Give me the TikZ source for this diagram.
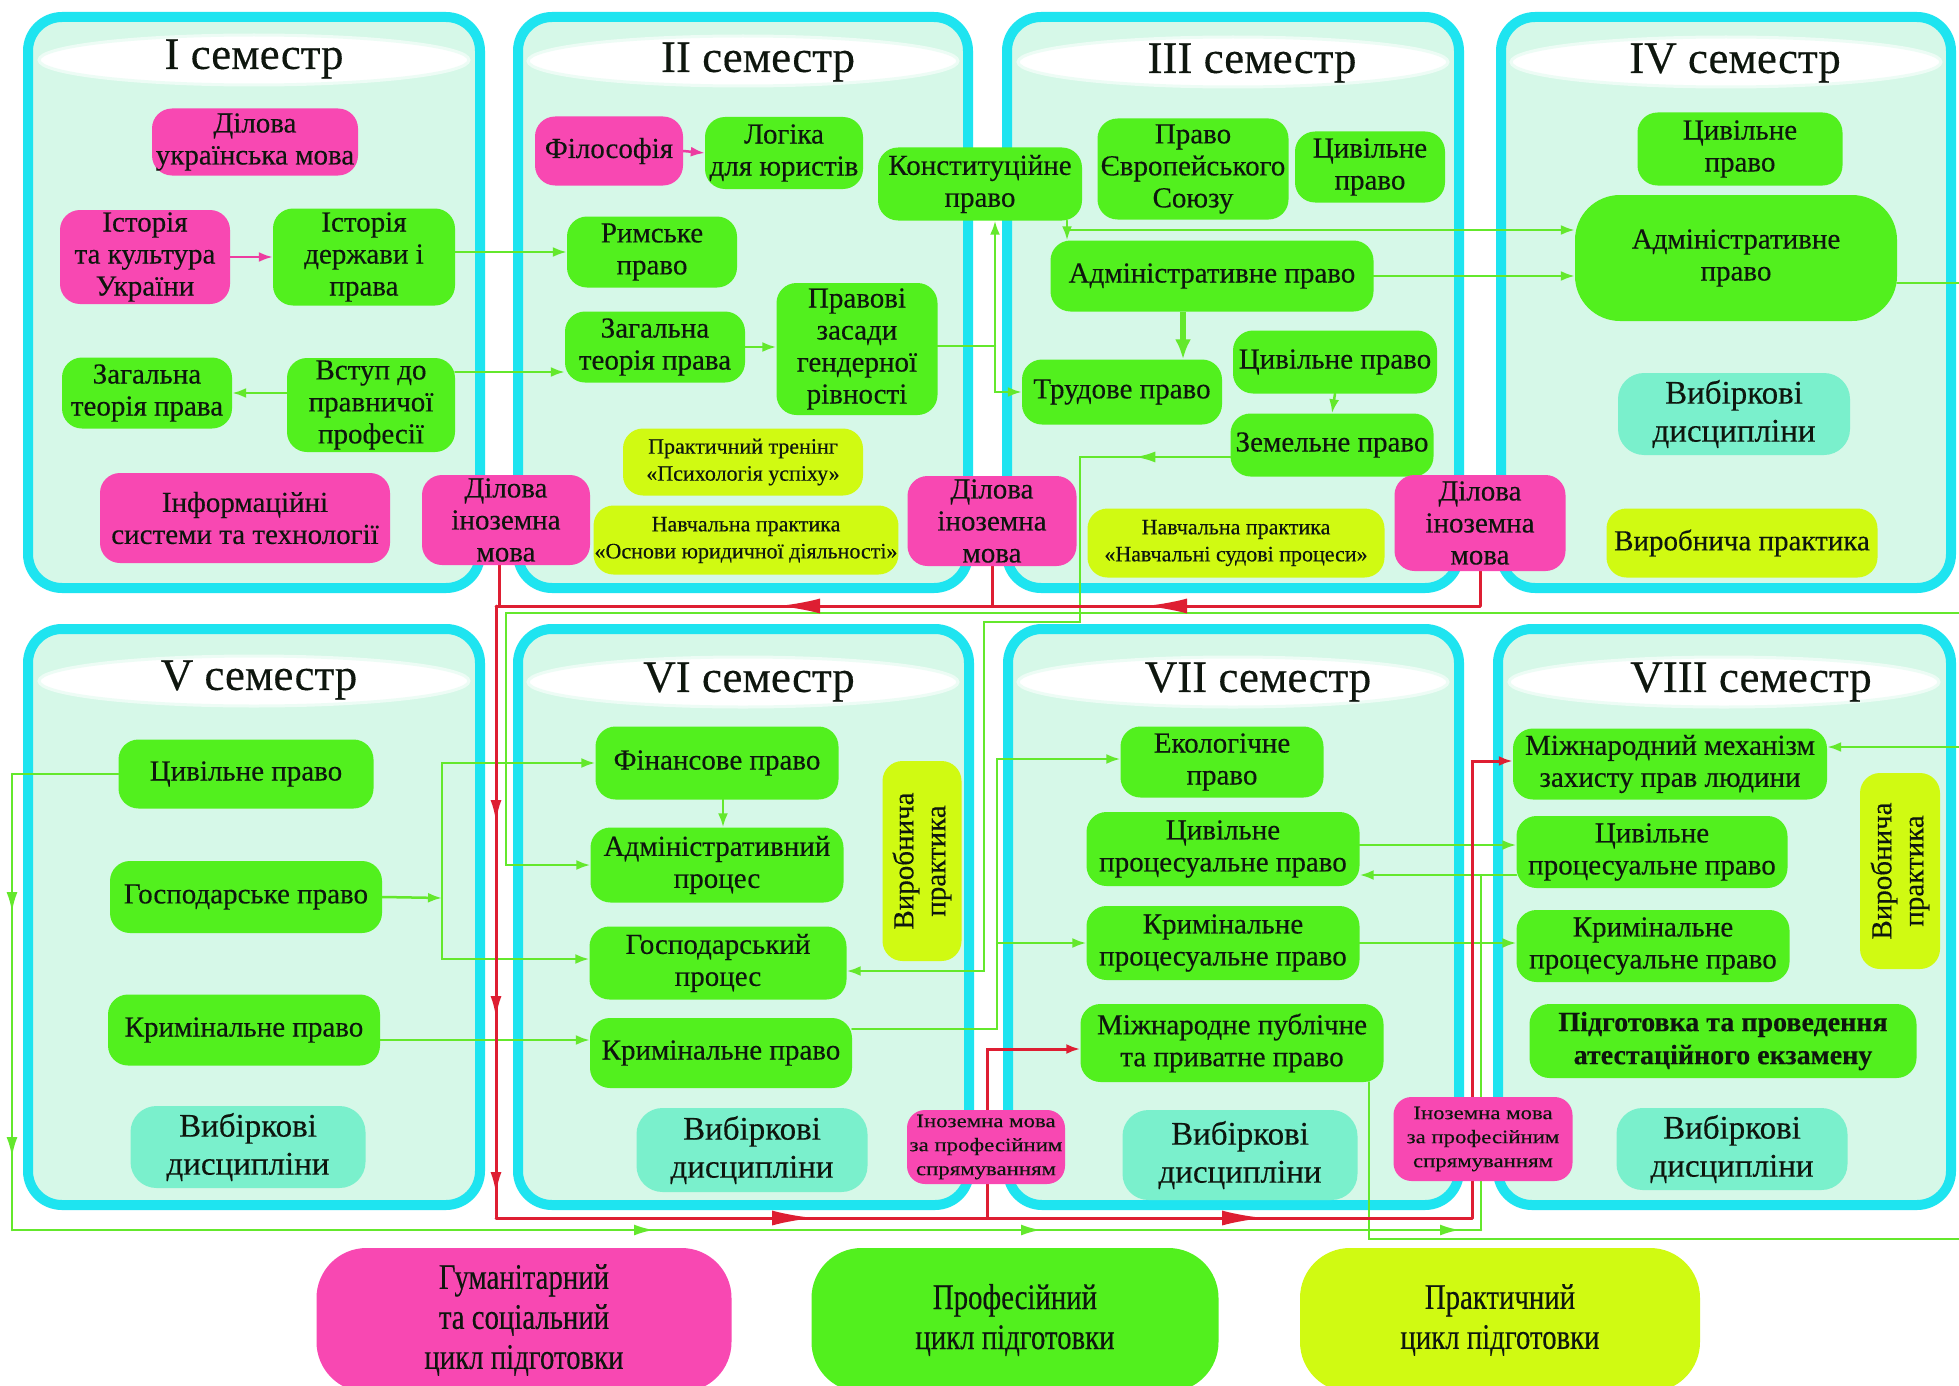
\documentclass[tikz,border=0pt]{standalone}
\usepackage{fontspec}
\setmainfont{Liberation Serif}[FakeBold=0.3]
\newfontfamily\narrowfont{Liberation Serif}[FakeStretch=0.8,FakeBold=0.3]
\newfontfamily\widefont{Liberation Serif}[FakeStretch=1.2,FakeBold=0.2]
\usetikzlibrary{arrows.meta,shapes.geometric,decorations.markings}
\definecolor{cyanB}{RGB}{30,228,240}
\definecolor{mint}{RGB}{214,248,232}
\definecolor{pinkN}{RGB}{248,72,178}
\definecolor{greenN}{RGB}{82,240,30}
\definecolor{yelN}{RGB}{208,250,18}
\definecolor{aquaN}{RGB}{122,240,204}
\definecolor{lineG}{RGB}{100,232,44}
\definecolor{lineR}{RGB}{222,30,50}
\definecolor{lineP}{RGB}{236,60,160}
\definecolor{txt}{RGB}{14,22,14}
\pgfdeclarelayer{panels}
\pgfdeclarelayer{links}
\pgfsetlayers{panels,links,main}
\newcommand\ftitle{\fontsize{45}{50}\selectfont}
\newcommand\fbody{\fontsize{29}{32}\selectfont}
\newcommand\fsmall{\fontsize{22}{27}\selectfont}
\newcommand\fvyb{\fontsize{33}{38}\selectfont}
\newcommand\ftiny{\widefont\fontsize{19}{24}\selectfont}
\newcommand\flegend{\narrowfont\fontsize{36}{40}\selectfont}
\newcommand\fboldx{\bfseries\fontsize{28}{33}\selectfont}
\newcommand\RT{\arrow{Latex[length=42pt,width=15pt]}}
\newcommand\RS{\arrow{Latex[length=22pt,width=11pt]}}
\newcommand\GT{\arrow{Latex[length=20pt,width=11pt]}}
\tikzset{
  panel/.style={draw=cyanB, line width=10pt, fill=mint, rounded corners=34pt},
  hdr/.style={ellipse, fill=white, draw=white!55!mint, line width=3pt, inner sep=0pt},
  ttl/.style={font=\ftitle, text=txt, inner sep=0pt},
  bx/.style={rectangle, rounded corners=20pt, align=center, inner sep=1pt, text=txt, font=\fbody},
  pk/.style={bx, fill=pinkN},
  gr/.style={bx, fill=greenN},
  ye/.style={bx, fill=yelN},
  aq/.style={bx, fill=aquaN, font=\fvyb, rounded corners=26pt},
  lg/.style={bx, font=\flegend, rounded corners=50pt},
  gl/.style={draw, color=lineG, line width=2.5pt, line cap=round},
  rl/.style={draw, color=lineR, line width=3pt, line cap=round},
  pl/.style={draw, color=lineP, line width=2.5pt, line cap=round}
}
\begin{document}
\begin{tikzpicture}[x=1pt,y=-1pt, >={Latex[length=14pt,width=10pt]}]
\useasboundingbox (0,0) rectangle (1959,1386);

% ---------- headers ----------
\node[hdr, minimum width=430pt, minimum height=50pt] (h1) at (254,60) {};
\node[hdr, minimum width=430pt, minimum height=50pt] (h2) at (743,61) {};
\node[hdr, minimum width=430pt, minimum height=50pt] (h3) at (1233,62) {};
\node[hdr, minimum width=430pt, minimum height=50pt] (h4) at (1726,62) {};
\node[hdr, minimum width=430pt, minimum height=50pt] (h5) at (254,681) {};
\node[hdr, minimum width=430pt, minimum height=50pt] (h6) at (743,682) {};
\node[hdr, minimum width=430pt, minimum height=50pt] (h7) at (1233,682) {};
\node[hdr, minimum width=430pt, minimum height=50pt] (h8) at (1724,682) {};
\node[ttl] (t1) at (254,59) {I семестр};
\node[ttl] (t2) at (758,62) {II семестр};
\node[ttl] (t3) at (1252,63) {III семестр};
\node[ttl] (t4) at (1735,63) {IV семестр};
\node[ttl] (t5) at (259,680) {V семестр};
\node[ttl] (t6) at (749,682) {VI семестр};
\node[ttl] (t7) at (1258,682) {VII семестр};
\node[ttl] (t8) at (1751,682) {VIII семестр};

% ---------- semester I ----------
\node[pk, minimum width=206pt, minimum height=67pt] (dum) at (255,142) {Ділова\\українська мова};
\node[pk, minimum width=170pt, minimum height=94pt] (iku) at (145,257) {Історія\\та культура\\України};
\node[gr, minimum width=182pt, minimum height=97pt] (idp) at (364,257) {Історія\\держави і\\права};
\node[gr, minimum width=170pt, minimum height=71pt] (ztp1) at (147,393) {Загальна\\теорія права};
\node[gr, minimum width=168pt, minimum height=94pt] (vstup) at (371,405) {Вступ до\\правничої\\професії};
\node[pk, minimum width=290pt, minimum height=90pt] (ist) at (245,518) {Інформаційні\\системи та технології};
\node[pk, minimum width=168pt, minimum height=90pt] (dim1) at (506,520) {Ділова\\іноземна\\мова};

% ---------- semester II ----------
\node[pk, minimum width=148pt, minimum height=69pt] (fil) at (609,151) {Філософія};
\node[gr, minimum width=158pt, minimum height=72pt] (logi) at (784,153) {Логіка\\для юристів};
\node[gr, minimum width=170pt, minimum height=71pt] (rym) at (652,252) {Римське\\право};
\node[gr, minimum width=180pt, minimum height=71pt] (ztp2) at (655,347) {Загальна\\теорія права};
\node[gr, minimum width=161pt, minimum height=132pt] (gend) at (857,349) {Правові\\засади\\гендерної\\рівності};
\node[ye, minimum width=240pt, minimum height=67pt, font=\fsmall] (ptr) at (743,462) {Практичний тренінг\\«Психологія успіху»};
\node[ye, minimum width=303pt, minimum height=69pt, font=\fsmall] (npo) at (746,540) {Навчальна практика\\«Основи юридичної діяльності»};
\node[pk, minimum width=169pt, minimum height=90pt] (dim2) at (992,521) {Ділова\\іноземна\\мова};

% ---------- semester III ----------
\node[gr, minimum width=204pt, minimum height=73pt] (konst) at (980,184) {Конституційне\\право};
\node[gr, minimum width=191pt, minimum height=101pt] (eu) at (1193,169) {Право\\Європейського\\Союзу};
\node[gr, minimum width=150pt, minimum height=71pt] (cp3a) at (1370,167) {Цивільне\\право};
\node[gr, minimum width=323pt, minimum height=71pt] (adm3) at (1212,276) {Адміністративне право};
\node[gr, minimum width=200pt, minimum height=65pt] (trud) at (1122,392) {Трудове право};
\node[gr, minimum width=204pt, minimum height=63pt] (cp3b) at (1335,362) {Цивільне право};
\node[gr, minimum width=203pt, minimum height=63pt] (zem) at (1332,445) {Земельне право};
\node[ye, minimum width=297pt, minimum height=69pt, font=\fsmall] (nsp) at (1236,543) {Навчальна практика\\«Навчальні судові процеси»};
\node[pk, minimum width=171pt, minimum height=96pt] (dim3) at (1480,523) {Ділова\\іноземна\\мова};

% ---------- semester IV ----------
\node[gr, minimum width=205pt, minimum height=73pt] (cp4) at (1740,149) {Цивільне\\право};
\node[gr, minimum width=322pt, minimum height=126pt, rounded corners=45pt] (adm4) at (1736,258) {Адміністративне\\право};
\node[aq, minimum width=232pt, minimum height=82pt] (vyb4) at (1734,414) {Вибіркові\\дисципліни};
\node[ye, minimum width=271pt, minimum height=69pt] (vp4) at (1742,543) {Виробнича практика};

% ---------- semester V ----------
\node[gr, minimum width=255pt, minimum height=69pt] (cp5) at (246,774) {Цивільне право};
\node[gr, minimum width=272pt, minimum height=72pt] (gp5) at (246,897) {Господарське право};
\node[gr, minimum width=272pt, minimum height=71pt] (kp5) at (244,1030) {Кримінальне право};
\node[aq, minimum width=235pt, minimum height=82pt] (vyb5) at (248,1147) {Вибіркові\\дисципліни};

% ---------- semester VI ----------
\node[gr, minimum width=243pt, minimum height=73pt] (fin6) at (717,763) {Фінансове право};
\node[gr, minimum width=253pt, minimum height=75pt] (ap6) at (717,865) {Адміністративний\\процес};
\node[gr, minimum width=257pt, minimum height=73pt] (gpr6) at (718,963) {Господарський\\процес};
\node[gr, minimum width=262pt, minimum height=70pt] (kp6) at (721,1053) {Кримінальне право};
\node[aq, minimum width=231pt, minimum height=84pt] (vyb6) at (752,1150) {Вибіркові\\дисципліни};
\node[ye, minimum width=200pt, minimum height=79pt, rotate=90] (vp6) at (922,861) {Виробнича\\практика};
\node[pk, minimum width=158pt, minimum height=74pt, font=\ftiny, rounded corners=18pt] (imp1) at (986,1147) {Іноземна мова\\за професійним\\спрямуванням};

% ---------- semester VII ----------
\node[gr, minimum width=203pt, minimum height=71pt] (ekol) at (1222,762) {Екологічне\\право};
\node[gr, minimum width=273pt, minimum height=74pt] (cpp7) at (1223,849) {Цивільне\\процесуальне право};
\node[gr, minimum width=273pt, minimum height=74pt] (kpp7) at (1223,943) {Кримінальне\\процесуальне право};
\node[gr, minimum width=303pt, minimum height=78pt] (mpp7) at (1232,1043) {Міжнародне публічне\\та приватне право};
\node[aq, minimum width=235pt, minimum height=90pt] (vyb7) at (1240,1155) {Вибіркові\\дисципліни};
\node[pk, minimum width=179pt, minimum height=84pt, font=\ftiny, rounded corners=18pt] (imp2) at (1483,1139) {Іноземна мова\\за професійним\\спрямуванням};

% ---------- semester VIII ----------
\node[gr, minimum width=314pt, minimum height=71pt] (mmz) at (1670,764) {Міжнародний механізм\\захисту прав людини};
\node[gr, minimum width=271pt, minimum height=72pt] (cpp8) at (1652,852) {Цивільне\\процесуальне право};
\node[gr, minimum width=273pt, minimum height=72pt] (kpp8) at (1653,946) {Кримінальне\\процесуальне право};
\node[gr, minimum width=387pt, minimum height=74pt, font=\fboldx] (atest) at (1723,1041) {Підготовка та проведення\\атестаційного екзамену};
\node[aq, minimum width=231pt, minimum height=82pt] (vyb8) at (1732,1149) {Вибіркові\\дисципліни};
\node[ye, minimum width=196pt, minimum height=80pt, rotate=90] (vp8) at (1900,871) {Виробнича\\практика};

% ---------- legend ----------
\node[lg, fill=pinkN, minimum width=415pt, minimum height=144pt] (lg1) at (524,1320) {Гуманітарний\\та соціальний\\цикл підготовки};
\node[lg, fill=greenN, minimum width=407pt, minimum height=144pt] (lg2) at (1015,1320) {Професійний\\цикл підготовки};
\node[lg, fill=yelN, minimum width=400pt, minimum height=144pt] (lg3) at (1500,1320) {Практичний\\цикл підготовки};

% ---------- panels ----------
\begin{pgfonlayer}{panels}
\fill[white] (0,0) rectangle (1959,1386);
\draw[panel] (28,17) rectangle (480,588);
\draw[panel] (518,17) rectangle (968,588);
\draw[panel] (1007,17) rectangle (1459,588);
\draw[panel] (1501,17) rectangle (1951,588);
\draw[panel] (28,629) rectangle (480,1205);
\draw[panel] (518,629) rectangle (969,1205);
\draw[panel] (1008,629) rectangle (1459,1205);
\draw[panel] (1498,629) rectangle (1951,1205);
\end{pgfonlayer}

% ---------- connectors ----------
\begin{pgfonlayer}{links}
\coordinate (j1) at (995,346);
\coordinate (k1) at (1067,230);
\coordinate (gj) at (442,898);
\coordinate (kj) at (997,1029);
\coordinate (kj2) at (997,943);
\coordinate (c1) at (12,774);
\coordinate (c2) at (12,1230);
\coordinate (c3) at (1481,1230);
\coordinate (c4) at (1481,875);
\coordinate (rb1) at (1480,606);
\coordinate (rb2) at (496,606);
\coordinate (rb3) at (496,1218);
\coordinate (rb4) at (1472,1218);
\coordinate (rb5) at (987,1218);

% semester I / II
\draw[pl,->] (iku.east) -- (idp.west);
\draw[gl,->] (vstup.west |- ztp1.east) -- (ztp1.east);
\draw[gl,->] (idp.east |- rym.west) -- (rym.west);
\draw[gl,->] (vstup.east |- 0,372) -- (ztp2.west |- 0,372);
\draw[pl,->] (fil.east) -- (logi.west);
\draw[gl,->] (ztp2.east) -- (gend.west |- ztp2.east);
\draw[gl] (gend.east |- j1) -- (j1);
\draw[gl,->] (j1) -- (j1 |- konst.south);
\draw[gl,->] (j1) |- (trud.west);
% semester III / IV
\draw[gl,->] (konst.south -| k1) -- (k1 |- adm3.north);
\draw[gl,->] (k1) -- (adm4.west |- k1);
\draw[gl,->] (adm3.east) -- (adm4.west |- adm3.east);
\draw[draw, color=lineG, line width=6pt, -{Latex[length=20pt,width=16pt]}] (adm3.south -| 1183,0) -- (trud.north -| 1183,0);
\draw[gl,->] (cp3b.south) -- (zem.north);
\draw[gl,->,postaction={decorate},decoration={markings,mark=at position 95pt with {\GT}}] (zem.west |- 0,457) -- (1080,457) -- (1080,622) -- (984,622) -- (984,971) -- (gpr6.east |- 0,971);
\draw[gl,->] (adm4.east |- 0,283) -- (1966,283) -- (1966,613) -- (506,613) -- (506,865) -- (ap6.west);
% semester V / VI / VII / VIII
\draw[gl,->] (gp5.east) -- (gj);
\draw[gl,->] (gj) |- (fin6.west);
\draw[gl,->] (gj) |- (gpr6.west |- 0,959);
\draw[gl,->] (kp5.east |- 0,1040) -- (kp6.west |- 0,1040);
\draw[gl,->] (fin6.south -| 723,0) -- (ap6.north -| 723,0);
\draw[gl] (kp6.east |- kj) -- (kj) -- (kj2);
\draw[gl,->] (kj2) |- (ekol.west |- 0,759);
\draw[gl,->] (kj2) -- (kpp7.west |- kj2);
\draw[gl] (cp5.west) -- (c1);
\draw[gl,postaction={decorate},decoration={markings,mark=at position 138pt with {\GT},mark=at position 383pt with {\GT}}] (c1) -- (c2);
\draw[gl,postaction={decorate},decoration={markings,mark=at position 642pt with {\GT},mark=at position 1029pt with {\GT},mark=at position 1448pt with {\GT}}] (c2) -- (c3);
\draw[gl,->] (c3) -- (c4) -- (cpp7.east |- c4);
\draw[gl] (c4) -- (cpp8.west |- c4);
\draw[gl,->] (cpp7.east |- 0,845) -- (cpp8.west |- 0,845);
\draw[gl,->] (kpp7.east) -- (kpp8.west |- kpp7.east);
\draw[gl,->] (mpp7.south -| 1369,0) -- (1369,1239) -- (1966,1239) -- (1966,747) -- (mmz.east |- 0,747);
% red: foreign language chain
\draw[rl] (dim3.south) -- (rb1);
\draw[rl] (dim2.south) -- (dim2.south |- rb1);
\draw[rl] (dim1.south -| 499,0) -- (499,606);
\draw[rl,postaction={decorate},decoration={markings,mark=at position 335pt with {\RT},mark=at position 702pt with {\RT}}] (rb1) -- (rb2);
\draw[rl,postaction={decorate},decoration={markings,mark=at position 216pt with {\RS},mark=at position 412pt with {\RS},mark=at position 588pt with {\RS}}] (rb2) -- (rb3);
\draw[rl,postaction={decorate},decoration={markings,mark=at position 318pt with {\RT},mark=at position 768pt with {\RT}}] (rb3) -- (rb4);
\draw[rl,->] (rb4) |- (mmz.west |- 0,761);
\draw[rl,->] (rb5) |- (mpp7.west |- 0,1049);
\end{pgfonlayer}
\end{tikzpicture}
\end{document}
